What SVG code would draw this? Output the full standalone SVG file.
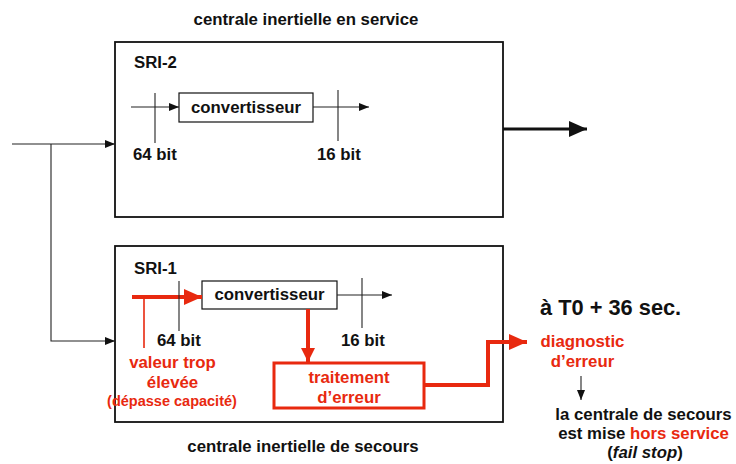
<svg xmlns="http://www.w3.org/2000/svg" width="736" height="464" viewBox="0 0 736 464">
<style>
text{font-family:"Liberation Sans",Arial,sans-serif;font-weight:bold;font-size:16.8px;fill:#111}
.red{fill:#e8290f}
.c{text-anchor:middle}
.box{fill:none;stroke:#111;stroke-width:1.8}
.thin{fill:none;stroke:#222;stroke-width:1.1}
.rl{fill:none;stroke:#e8290f;stroke-width:4}
</style>
<defs>
<marker id="ah" markerWidth="10" markerHeight="8" refX="10" refY="4" orient="auto" markerUnits="userSpaceOnUse"><path d="M0,0 L10,4 L0,8 z" fill="#111"/></marker>
<marker id="ahb" markerWidth="18" markerHeight="16" refX="18" refY="8" orient="auto" markerUnits="userSpaceOnUse"><path d="M0,0 L18,8 L0,16 z" fill="#111"/></marker>
<marker id="ahr" markerWidth="18" markerHeight="16" refX="18" refY="8" orient="auto" markerUnits="userSpaceOnUse"><path d="M0,0 L18,8 L0,16 z" fill="#e8290f"/></marker>
<marker id="ahr2" markerWidth="14" markerHeight="14" refX="14" refY="7" orient="auto" markerUnits="userSpaceOnUse"><path d="M0,0 L14,7 L0,14 z" fill="#e8290f"/></marker>
</defs>

<text class="c" x="306" y="25">centrale inertielle en service</text>
<text class="c" x="303" y="452">centrale inertielle de secours</text>

<g id="sri2">
<rect class="box" x="115" y="42" width="388" height="175"/>
<text x="134" y="68">SRI-2</text>
</g>
<g id="conv2">
<rect x="179" y="93" width="134" height="29" fill="#fff" stroke="#111" stroke-width="1.2"/>
<text class="c" x="246" y="113">convertisseur</text>
</g>
<g id="sri1">
<rect class="box" x="115" y="246" width="388" height="176"/>
<text x="134" y="274">SRI-1</text>
</g>
<g id="conv1">
<rect x="202" y="281" width="135" height="28" fill="#fff" stroke="#111" stroke-width="1.2"/>
<text class="c" x="269.5" y="300">convertisseur</text>
</g>
<g id="traitement">
<rect x="274" y="363" width="150" height="45" fill="#fff" stroke="#e8290f" stroke-width="3"/>
<text class="c red" x="349" y="383">traitement</text>
<text class="c red" x="349" y="403">d’erreur</text>
</g>
<g id="labels">
<text x="133" y="160">64 bit</text>
<text x="317" y="160">16 bit</text>
<text x="157" y="346">64 bit</text>
<text x="341" y="346">16 bit</text>
<text class="c red" x="172.5" y="368">valeur trop</text>
<text class="c red" x="172.5" y="388">élevée</text>
<text class="c red" x="172" y="406" style="font-size:14.5px">(dépasse capacité)</text>
<text x="540" y="315" style="font-size:21.8px">à T0 + 36 sec.</text>
</g>
<g id="diagnostic">
<text class="c red" x="582.5" y="347">diagnostic</text>
<text class="c red" x="582.5" y="367">d’erreur</text>
</g>
<g id="horsservice">
<text class="c" x="643.5" y="420">la centrale de secours</text>
<text class="c" x="643.5" y="439">est mise <tspan class="red">hors service</tspan></text>
<text class="c" x="645" y="458">(<tspan font-style="italic">fail stop</tspan>)</text>
</g>

<g id="connectors">
<path class="thin" d="M12,144 H115" marker-end="url(#ah)"/>
<path class="thin" d="M51,144 V341 H115" marker-end="url(#ah)"/>
<path class="thin" d="M131,107 H179" marker-end="url(#ah)"/>
<path class="thin" d="M155,93 V143"/>
<path class="thin" d="M313,107 H369" marker-end="url(#ah)"/>
<path class="thin" d="M338,90 V141"/>
<path d="M503,129 H587" fill="none" stroke="#111" stroke-width="3.2" marker-end="url(#ahb)"/>
<path class="rl" d="M132,297 H202" marker-end="url(#ahr)"/>
<path fill="none" stroke="#e8290f" stroke-width="1.6" d="M144,297 V348"/>
<path class="thin" d="M179,281 V331"/>
<path class="thin" d="M337,295 H392" marker-end="url(#ah)"/>
<path class="thin" d="M362,278 V328"/>
<path class="rl" d="M308,309 V362" marker-end="url(#ahr2)"/>
<path class="rl" d="M424,385 H488 V342 H527" marker-end="url(#ahr)"/>
<path class="thin" d="M581,376 V400" marker-end="url(#ah)"/>
</g>
</svg>
